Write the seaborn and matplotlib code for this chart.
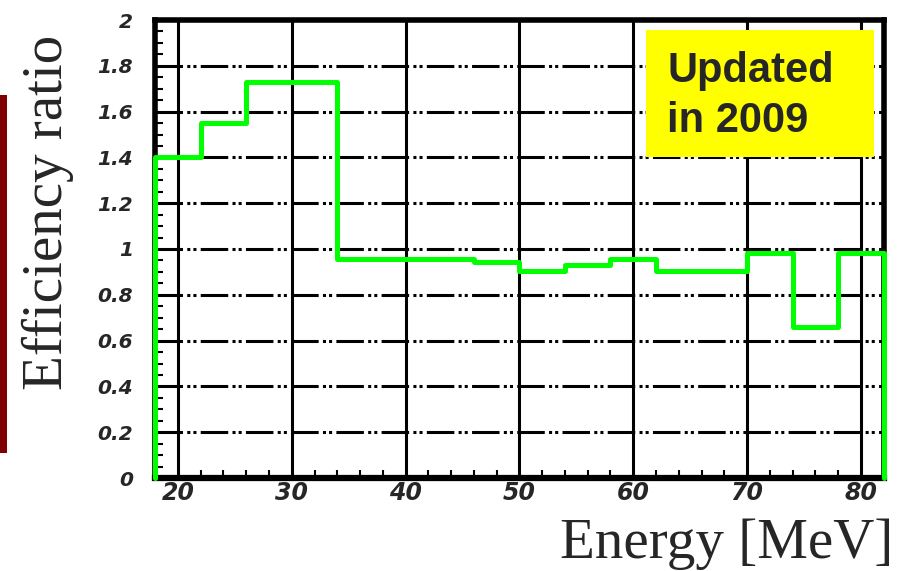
import numpy as np
import pandas as pd
import matplotlib
matplotlib.use("Agg")
import matplotlib.pyplot as plt
import seaborn as sns
from matplotlib.patches import Rectangle
from matplotlib.ticker import MultipleLocator

# ---- data ----
bin_edges = [18, 22, 26, 30, 34, 38, 42, 46, 50, 54, 58, 62, 66, 70, 74, 78, 82]
ratio = [1.40, 1.55, 1.73, 1.73, 0.957, 0.957, 0.957, 0.945, 0.904, 0.930,
         0.956, 0.904, 0.904, 0.983, 0.659, 0.983]
x_ticks = [20, 30, 40, 50, 60, 70, 80]
x_tick_labels = ["20", "30", "40", "50", "60", "70", "80"]
y_ticks = [0, 0.2, 0.4, 0.6, 0.8, 1.0, 1.2, 1.4, 1.6, 1.8, 2.0]
y_tick_labels = ["0", "0.2", "0.4", "0.6", "0.8", "1", "1.2", "1.4", "1.6", "1.8", "2"]

sns.set_style("white")
W, H = 898, 571
fig = plt.figure(figsize=(W / 100, H / 100), dpi=100)
ax = fig.add_axes([155.2 / W, 1 - 478 / H, 728.4 / W, 458 / H])

# histogram outline (closed down to zero at both ends)
xs = [bin_edges[0]]
ys = [0.0]
for i, v in enumerate(ratio):
    xs += [bin_edges[i], bin_edges[i + 1]]
    ys += [v, v]
xs.append(bin_edges[-1])
ys.append(0.0)
df = pd.DataFrame({"Energy": xs, "Ratio": ys})
sns.lineplot(data=df, x="Energy", y="Ratio", sort=False, estimator=None,
             color="#00ff00", lw=3.6, ax=ax, zorder=4, clip_on=False)

ax.set_xlim(18, 82)
ax.set_ylim(0, 2)
ax.set_xlabel("")
ax.set_ylabel("")

# grid
ax.set_axisbelow(False)
ax.xaxis.grid(True, which="major", color="black", lw=2.2, linestyle="-")
ax.yaxis.grid(True, which="major", color="black", lw=2.2,
              linestyle=(0, (9, 1.4, 1, 1, 1, 1.4)))

for s in ax.spines.values():
    s.set_visible(True)
    s.set_color("black")
    s.set_linewidth(4)
ax.spines["bottom"].set_linewidth(4.5)

tick_font = dict(fontweight="bold", fontstyle="italic", family="DejaVu Sans")
ax.set_xticks(x_ticks, labels=x_tick_labels, fontsize=17, **tick_font)
ax.set_yticks(y_ticks, labels=y_tick_labels, fontsize=14.5, **tick_font)
ax.xaxis.set_minor_locator(MultipleLocator(2))
ax.yaxis.set_minor_locator(MultipleLocator(0.05))
ax.tick_params(which="major", length=0)
ax.tick_params(axis="x", which="major", pad=2)
ax.tick_params(axis="y", which="major", pad=16)
ax.tick_params(which="minor", direction="in", length=5.5, width=1.5, color="black",
               left=True, bottom=True, top=False, right=False)

# axis titles
fig.text(62 / W, 1 - 390 / H, "Efficiency ratio", rotation=90, rotation_mode="anchor",
         ha="left", va="baseline", fontsize=41, family="Liberation Serif")
fig.text(893 / W, 1 - 558 / H, "Energy [MeV]", ha="right", va="baseline",
         fontsize=41, family="Liberation Serif")

# dark red bar at left edge
fig.add_artist(Rectangle((0, 1 - 453 / H), 7 / W, 358 / H, transform=fig.transFigure,
                         facecolor="#7f0000", edgecolor="none", zorder=5))

# yellow note box
fig.add_artist(Rectangle((646 / W, 1 - 157 / H), 228 / W, 127 / H, transform=fig.transFigure,
                         facecolor="#ffff00", edgecolor="none", zorder=5))
fig.text(667 / W, 1 - 82 / H, "Updated", fontsize=30, fontweight="bold",
         family="Liberation Sans", ha="left", va="baseline", zorder=6)
fig.text(667 / W, 1 - 132 / H, "in 2009", fontsize=30, fontweight="bold",
         family="Liberation Sans", ha="left", va="baseline", zorder=6)

fig.savefig("out.png", dpi=100)
